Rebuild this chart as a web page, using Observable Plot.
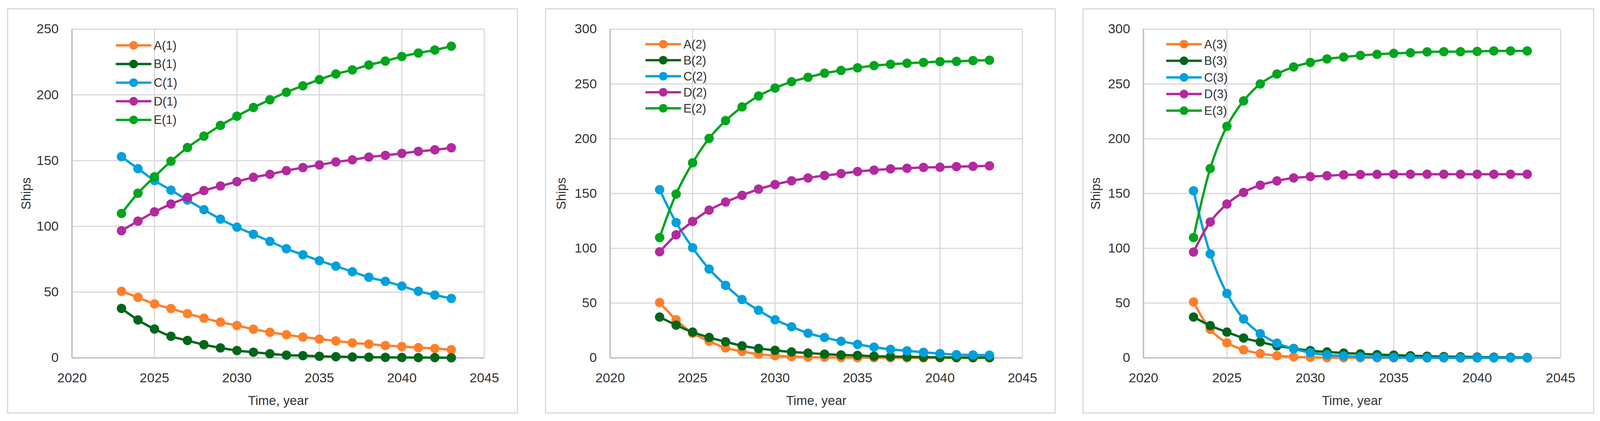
<!DOCTYPE html>
<html>
<head>
<meta charset="utf-8">
<script src="https://cdn.jsdelivr.net/npm/d3@7"></script>
<script src="https://cdn.jsdelivr.net/npm/@observablehq/plot@0.6"></script>
<style>
  html, body { margin: 0; padding: 0; background: #ffffff; }
  body { height: 1077px; position: relative; overflow: hidden;
         font-family: "Liberation Sans", Arial, sans-serif; }
  .panel { position: absolute; box-sizing: border-box; border: 3px solid #d9d9d9; background: #ffffff; }
  .chart { position: absolute; top: 0; }
  .legend { position: absolute; top: 0; left: 0; pointer-events: none; }
</style>
</head>
<body>
<script>
// ---------------- data ----------------
const years = [2023, 2024, 2025, 2026, 2027, 2028, 2029, 2030, 2031, 2032, 2033,
               2034, 2035, 2036, 2037, 2038, 2039, 2040, 2041, 2042, 2043];

const seriesKeys = ["A", "B", "C", "D", "E"];
const seriesColors = ["#FF7F2A", "#00661A", "#00A0DC", "#B22A9E", "#00A51D"];

const xTicks = [2020, 2025, 2030, 2035, 2040, 2045];
const yTicks1 = [0, 50, 100, 150, 200, 250];
const yTicks23 = [0, 50, 100, 150, 200, 250, 300];

// Scenario 1
const A1 = [50.6, 46, 41, 37.5, 33.7, 30.2, 27.2, 24.6, 21.8, 19.5, 17.6, 15.8, 14.3, 12.9, 11.4, 10.5, 9.4, 8.6, 7.8, 7.1, 6.2];
const B1 = [37.6, 28.8, 21.9, 16.4, 13.2, 10, 7.6, 5.6, 4.3, 3.1, 2.1, 1.7, 1.2, 0.9, 0.7, 0.5, 0.4, 0.3, 0.2, 0.2, 0.1];
const C1 = [153, 143.9, 134.9, 127.5, 120, 112.7, 105.5, 99.4, 94, 88.6, 83, 78.4, 73.9, 69.8, 65.5, 61.3, 58.2, 54.6, 50.7, 47.8, 45.2];
const D1 = [96.7, 104, 111, 117, 122, 127.2, 130.7, 134, 137.3, 139.6, 142.4, 144.7, 146.7, 149, 150.6, 152.7, 154, 155.5, 157, 158.2, 159.8];
const E1 = [109.8, 125.2, 137.7, 149.5, 159.9, 168.6, 176.8, 183.8, 190.4, 196.3, 202, 206.9, 211.6, 215.9, 219, 222.7, 225.7, 229.2, 231.8, 234.1, 237];

// Scenario 2
const A2 = [50.5, 34.8, 22.5, 15.2, 9.1, 5.9, 3.4, 2, 1.2, 0.7, 0.5, 0.3, 0.2, 0.1, 0.1, 0.1, 0, 0, 0, 0, 0];
const B2 = [37.3, 29.9, 23.5, 18.6, 14.7, 11, 8.6, 6.9, 5.4, 4.4, 3.4, 2.7, 2.2, 1.5, 1.2, 1, 0.7, 0.5, 0.4, 0.3, 0.3];
const C2 = [153.5, 123.5, 100.5, 81.1, 66.2, 53.2, 43.4, 34.8, 28.4, 22.5, 18.6, 15.2, 12.3, 9.8, 7.8, 6.4, 5.1, 3.9, 2.9, 2.7, 2.5];
const D2 = [96.8, 112.3, 124.5, 134.8, 142.2, 148.3, 154, 158.2, 161.6, 164.2, 166.4, 168.1, 170.1, 171.3, 172.5, 173, 173.8, 174, 174.5, 174.8, 175.2];
const E2 = [109.8, 149.5, 178, 200.3, 216.5, 229, 239, 246.2, 252, 256, 259.8, 262.3, 264.7, 266.7, 267.9, 268.9, 269.6, 270.3, 270.6, 271.3, 271.6];

// Scenario 3
const A3 = [51, 26, 13.7, 7.4, 3.9, 2, 1, 0.5, 0.2, 0.1, 0.1, 0, 0, 0, 0, 0, 0, 0, 0, 0, 0];
const B3 = [37.3, 29.4, 23.5, 18.1, 14.5, 11, 8.6, 6.6, 5.4, 4.4, 3.7, 2.9, 2.5, 2, 1.5, 1.2, 1, 0.7, 0.6, 0.5, 0.4];
const C3 = [152.5, 94.9, 58.8, 35.5, 22.1, 13.5, 8.3, 4.7, 2.7, 1.7, 1, 0.6, 0.4, 0.2, 0.1, 0.1, 0, 0, 0, 0, 0];
const D3 = [96.6, 124, 140.4, 151, 157.6, 161.5, 164.2, 165.4, 166.2, 167, 167.3, 167.5, 167.6, 167.6, 167.6, 167.6, 167.6, 167.6, 167.6, 167.6, 167.6];
const E3 = [109.8, 172.8, 211.3, 234.5, 250, 259.1, 265.5, 269.6, 272.8, 274.5, 276, 277, 277.9, 278.4, 279.2, 279.4, 279.4, 279.7, 280.1, 280.1, 280.1];

const xLabel = "Time, year";
const yLabel = "Ships";

// ---------------- layout (designed for a 4323 px wide page, x scaled to the real viewport) ----------------
const designW = 4323;
const pageW = Math.min(designW, document.documentElement.clientWidth || window.innerWidth || designW);
const sx = pageW / designW;
document.body.style.width = pageW + "px";

const pageH = 1077;
const plotTop = 74, plotBottom = 915;
const layouts = [
  {id: 1, series: [A1, B1, C1, D1, E1], yTicks: yTicks1, left: 19, width: 1381, plotLeft: 194, plotRight: 1308, yLabelOffset: 137,
   legend: {x: 313, y: 116, dy: 47.7}},
  {id: 2, series: [A2, B2, C2, D2, E2], yTicks: yTicks23, left: 1472, width: 1381, plotLeft: 1648, plotRight: 2762, yLabelOffset: 145,
   legend: {x: 1744, y: 113, dy: 41}},
  {id: 3, series: [A3, B3, C3, D3, E3], yTicks: yTicks23, left: 2925, width: 1383, plotLeft: 3089, plotRight: 4216, yLabelOffset: 142,
   legend: {x: 3151, y: 113, dy: 42.5}}
];

const fontFamily = '"Liberation Sans", Arial, sans-serif';
const textColor = "#333333";
const gridColor = "#d9d9d9";
const axisColor = "#bfbfbf";

const legendSvg = d3.create("svg")
  .attr("class", "legend")
  .attr("width", pageW).attr("height", pageH)
  .attr("font-family", fontFamily);

for (const L of layouts) {
  const left = Math.round(L.left * sx);
  const width = Math.round(L.width * sx);
  const plotLeft = L.plotLeft * sx;
  const plotRight = L.plotRight * sx;

  const box = document.createElement("div");
  box.className = "panel";
  Object.assign(box.style, {left: left + "px", top: "21px", width: width + "px", height: "1037px"});
  document.body.appendChild(box);

  const yMax = L.yTicks[L.yTicks.length - 1];
  const marks = [
    Plot.gridX(xTicks, {stroke: gridColor, strokeWidth: 3, strokeOpacity: 1}),
    Plot.gridY(L.yTicks, {stroke: gridColor, strokeWidth: 3, strokeOpacity: 1}),
    Plot.ruleX([xTicks[0]], {stroke: axisColor, strokeWidth: 3.5}),
    Plot.ruleY([0], {stroke: axisColor, strokeWidth: 3.5}),
    Plot.axisX(xTicks, {tickSize: 0, tickPadding: 38, fontSize: 34, fill: textColor, label: null, tickFormat: d => String(d)}),
    Plot.axisY(L.yTicks, {tickSize: 0, tickPadding: 36 * sx, fontSize: 34, fill: textColor, label: null}),
    Plot.axisX([], {tickSize: 0, label: xLabel, labelAnchor: "center", labelOffset: 120, labelArrow: "none",
                    fontSize: 33, fill: textColor}),
    Plot.axisY([], {tickSize: 0, label: yLabel, labelAnchor: "center", labelOffset: L.yLabelOffset * sx, labelArrow: "none",
                    fontSize: 33, fill: textColor})
  ];

  L.series.forEach((vals, si) => {
    const data = years.map((yr, i) => ({year: yr, value: vals[i]}));
    marks.push(Plot.line(data, {x: "year", y: "value", stroke: seriesColors[si], strokeWidth: 6, curve: "catmull-rom"}));
    marks.push(Plot.dot(data, {x: "year", y: "value", r: 12, fill: seriesColors[si]}));
  });

  const chart = Plot.plot({
    width,
    height: pageH,
    marginTop: plotTop,
    marginBottom: pageH - plotBottom,
    marginLeft: plotLeft - left,
    marginRight: left + width - plotRight,
    style: {fontFamily, background: "transparent", overflow: "visible", color: textColor},
    x: {domain: [xTicks[0], xTicks[xTicks.length - 1]], label: null},
    y: {domain: [0, yMax], label: null},
    marks
  });
  chart.classList.add("chart");
  chart.style.left = left + "px";
  document.body.appendChild(chart);

  // legend, top-left inside the plot area
  const lx = L.legend.x * sx;
  const lineLen = 96 * sx;
  seriesKeys.forEach((k, i) => {
    const cy = L.legend.y + i * L.legend.dy;
    const g = legendSvg.append("g");
    g.append("line").attr("x1", lx).attr("x2", lx + lineLen)
      .attr("y1", cy).attr("y2", cy)
      .attr("stroke", seriesColors[i]).attr("stroke-width", 6);
    g.append("circle").attr("cx", lx + lineLen / 2).attr("cy", cy).attr("r", 11)
      .attr("fill", seriesColors[i]);
    g.append("text").attr("x", lx + lineLen + 6).attr("y", cy)
      .attr("dominant-baseline", "central")
      .attr("font-size", 31).attr("fill", textColor)
      .text(`${k}(${L.id})`);
  });
}
document.body.appendChild(legendSvg.node());
</script>
</body>
</html>
